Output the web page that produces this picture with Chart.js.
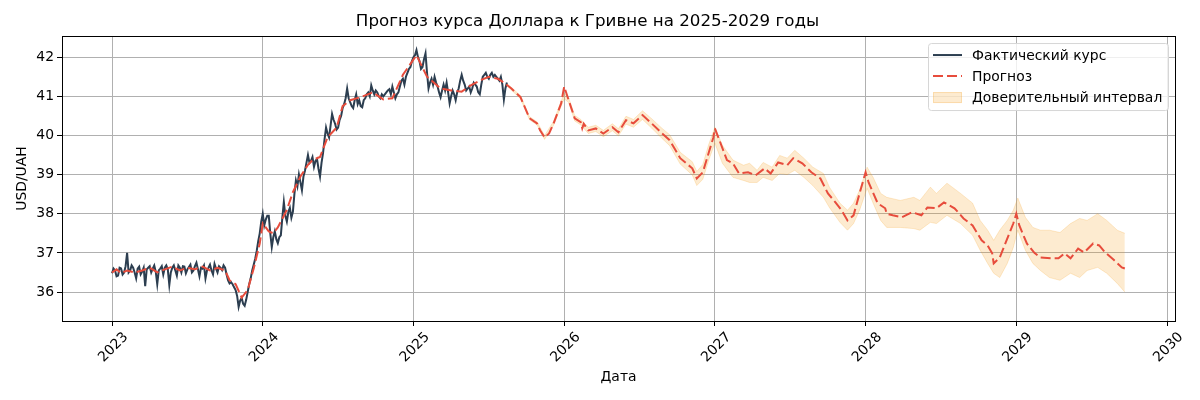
<!DOCTYPE html>
<html lang="ru">
<head>
<meta charset="utf-8">
<title>Прогноз курса Доллара к Гривне</title>
<script src="https://cdn.jsdelivr.net/npm/chart.js@4.4.1/dist/chart.umd.min.js"></script>
<style>
  html, body { margin: 0; padding: 0; background: #fff; }
  #wrap { width: 1200px; height: 400px; }
</style>
</head>
<body>
<div id="wrap"><canvas id="chart" width="1200" height="400"></canvas></div>
<script>
"use strict";

// axis ticks
const yearTicks = [2023, 2024, 2025, 2026, 2027, 2028, 2029, 2030];
const rateTicks = [36, 37, 38, 39, 40, 41, 42];

// actual rate, sampled every 0.01 year from 2023.00
const actualStart = 2023.0;
const actualStep = 0.01;
const actualValues = [
    // 2023
    36.48, 36.60, 36.55, 36.40, 36.42, 36.62, 36.60, 36.45, 36.50, 36.66,
    37.00, 36.50, 36.55, 36.68, 36.62, 36.50, 36.35, 36.60, 36.65, 36.45,
    36.52, 36.62, 36.15, 36.58, 36.62, 36.66, 36.50, 36.60, 36.68, 36.52,
    36.20, 36.55, 36.60, 36.66, 36.45, 36.62, 36.68, 36.58, 36.18, 36.50,
    36.62, 36.68, 36.55, 36.42, 36.68, 36.62, 36.50, 36.66, 36.65, 36.48,
    36.58, 36.64, 36.70, 36.50, 36.55, 36.66, 36.75, 36.58, 36.40, 36.62,
    36.60, 36.68, 36.35, 36.55, 36.62, 36.70, 36.55, 36.45, 36.72, 36.60,
    36.50, 36.66, 36.62, 36.56, 36.68, 36.62, 36.45, 36.30, 36.22, 36.25,
    36.20, 36.12, 36.05, 35.90, 35.62, 35.78, 35.85, 35.70, 35.65, 35.80,
    36.00, 36.20, 36.35, 36.55, 36.70, 36.85, 37.05, 37.30, 37.50, 37.80,
    // 2024
    38.00, 37.70, 37.85, 37.95, 37.95, 37.50, 37.15, 37.40, 37.55, 37.35,
    37.25, 37.40, 37.45, 37.90, 38.30, 37.95, 37.80, 38.05, 38.15, 37.90,
    38.05, 38.50, 38.85, 38.70, 39.00, 38.80, 38.60, 38.95, 39.10, 39.30,
    39.50, 39.30, 39.35, 39.45, 39.20, 39.35, 39.40, 39.15, 38.95, 39.30,
    39.55, 39.90, 40.20, 40.05, 39.95, 40.25, 40.55, 40.40, 40.30, 40.15,
    40.20, 40.40, 40.50, 40.70, 40.80, 40.95, 41.20, 40.95, 40.85, 40.75,
    40.70, 40.90, 41.05, 40.80, 40.90, 40.75, 40.72, 40.90, 40.95, 41.05,
    41.10, 41.00, 41.28, 41.15, 41.05, 41.15, 41.10, 41.00, 40.95, 41.05,
    41.00, 41.05, 41.10, 41.15, 41.18, 41.05, 41.25, 41.10, 40.95, 41.05,
    41.10, 41.25, 41.40, 41.45, 41.30, 41.50, 41.60, 41.70, 41.75, 41.90,
    // 2025
    42.00, 42.05, 42.18, 42.00, 41.90, 41.70, 41.75, 41.95, 42.10, 41.60,
    41.20, 41.35, 41.45, 41.30, 41.50, 41.35, 41.25, 41.10, 40.98, 41.15,
    41.30, 41.15, 41.35, 41.10, 40.82, 41.00, 41.15, 41.05, 40.90, 41.10,
    41.20, 41.40, 41.55, 41.40, 41.30, 41.15, 41.20, 41.25, 41.10, 41.20,
    41.35, 41.30, 41.25, 41.10, 41.05, 41.30, 41.50, 41.55, 41.60, 41.50,
    41.45, 41.55, 41.60, 41.50, 41.55, 41.50, 41.45, 41.40, 41.50, 41.30,
    40.92, 41.20, 41.35
];

// forecast line
const forecastYears = [
    2023.00, 2023.03, 2023.06, 2023.10, 2023.15, 2023.20, 2023.25, 2023.30, 2023.35, 2023.40,
    2023.45, 2023.50, 2023.55, 2023.60, 2023.65, 2023.70, 2023.75, 2023.78, 2023.82, 2023.86,
    2023.90, 2023.94, 2023.98, 2024.00, 2024.04, 2024.07, 2024.10, 2024.16, 2024.20, 2024.25,
    2024.30, 2024.33, 2024.38, 2024.43, 2024.49, 2024.53, 2024.58, 2024.65, 2024.73, 2024.80,
    2024.86, 2024.93, 2025.02, 2025.09, 2025.18, 2025.25, 2025.32, 2025.38, 2025.45, 2025.50,
    2025.56, 2025.60, 2025.65, 2025.71, 2025.77, 2025.82, 2025.84, 2025.87, 2025.90, 2025.93,
    2025.98, 2026.00, 2026.03, 2026.07, 2026.11, 2026.12, 2026.13, 2026.16, 2026.21, 2026.26,
    2026.32, 2026.36, 2026.41, 2026.46, 2026.52, 2026.58, 2026.65, 2026.70, 2026.77, 2026.81,
    2026.85, 2026.88, 2026.92, 2026.96, 2026.99, 2027.00, 2027.03, 2027.08, 2027.12, 2027.16,
    2027.22, 2027.27, 2027.33, 2027.37, 2027.42, 2027.48, 2027.52, 2027.58, 2027.64, 2027.70,
    2027.75, 2027.80, 2027.84, 2027.88, 2027.92, 2027.96, 2028.00, 2028.02, 2028.08, 2028.13,
    2028.14, 2028.18, 2028.24, 2028.31, 2028.37, 2028.41, 2028.47, 2028.52, 2028.59, 2028.65,
    2028.71, 2028.77, 2028.81, 2028.84, 2028.85, 2028.89, 2028.93, 2028.98, 2029.00, 2029.02,
    2029.07, 2029.12, 2029.16, 2029.23, 2029.28, 2029.32, 2029.36, 2029.41, 2029.45, 2029.51,
    2029.55, 2029.59, 2029.65, 2029.70, 2029.72
];
const forecastValues = [
    36.50, 36.58, 36.48, 36.55, 36.50, 36.55, 36.62, 36.50, 36.58, 36.65,
    36.55, 36.62, 36.58, 36.65, 36.55, 36.62, 36.55, 36.30, 36.20, 35.86,
    36.05, 36.60, 37.24, 37.75, 37.55, 37.50, 37.65, 38.10, 38.55, 38.95,
    39.25, 39.37, 39.45, 39.95, 40.20, 40.75, 40.90, 40.98, 41.10, 40.92,
    40.95, 41.55, 42.05, 41.50, 41.20, 41.15, 41.12, 41.28, 41.42, 41.50,
    41.45, 41.35, 41.20, 40.98, 40.44, 40.31, 40.13, 39.95, 40.05, 40.31,
    40.82, 41.25, 40.90, 40.44, 40.34, 40.18, 40.30, 40.13, 40.18, 40.05,
    40.21, 40.08, 40.39, 40.31, 40.52, 40.31, 40.05, 39.88, 39.42, 39.29,
    39.16, 38.90, 39.06, 39.57, 39.95, 40.18, 39.88, 39.37, 39.29, 39.03,
    39.06, 38.98, 39.16, 39.03, 39.31, 39.24, 39.42, 39.29, 39.06, 38.90,
    38.52, 38.29, 38.09, 37.83, 37.96, 38.52, 39.06, 38.80, 38.27, 38.14,
    38.00, 37.96, 37.91, 38.04, 37.96, 38.16, 38.14, 38.29, 38.14, 37.88,
    37.70, 37.32, 37.19, 36.99, 36.73, 36.88, 37.27, 37.75, 38.00, 37.70,
    37.24, 37.00, 36.88, 36.86, 36.86, 36.99, 36.86, 37.11, 37.01, 37.24,
    37.19, 37.01, 36.81, 36.63, 36.60
];

// confidence interval
const bandYears = [
    2025.62, 2025.71, 2025.77, 2025.82, 2025.87, 2025.93, 2026.00, 2026.03, 2026.07, 2026.11,
    2026.16, 2026.21, 2026.26, 2026.32, 2026.36, 2026.41, 2026.46, 2026.52, 2026.58, 2026.65,
    2026.70, 2026.77, 2026.81, 2026.85, 2026.88, 2026.92, 2026.96, 2027.00, 2027.05, 2027.12,
    2027.19, 2027.23, 2027.28, 2027.32, 2027.38, 2027.43, 2027.48, 2027.53, 2027.59, 2027.65,
    2027.72, 2027.76, 2027.83, 2027.88, 2027.92, 2027.96, 2028.01, 2028.05, 2028.10, 2028.14,
    2028.23, 2028.32, 2028.36, 2028.43, 2028.47, 2028.54, 2028.63, 2028.71, 2028.76, 2028.81,
    2028.85, 2028.89, 2028.94, 2028.98, 2029.01, 2029.06, 2029.11, 2029.16, 2029.22, 2029.29,
    2029.36, 2029.42, 2029.47, 2029.54, 2029.60, 2029.67, 2029.72
];
const bandUpper = [
    41.33, 41.02, 40.48, 40.35, 40.00, 40.36, 41.08, 40.96, 40.51, 40.41,
    40.21, 40.26, 40.13, 40.30, 40.17, 40.49, 40.41, 40.63, 40.43, 40.18,
    40.02, 39.57, 39.45, 39.33, 39.08, 39.26, 39.78, 40.21, 39.75, 39.37,
    39.24, 39.29, 39.11, 39.31, 39.19, 39.49, 39.42, 39.62, 39.42, 39.19,
    39.03, 38.68, 38.27, 38.09, 38.27, 38.60, 39.19, 38.93, 38.52, 38.42,
    38.34, 38.42, 38.34, 38.68, 38.52, 38.78, 38.52, 38.27, 37.83, 37.58,
    37.32, 37.58, 37.83, 38.09, 38.40, 37.91, 37.65, 37.58, 37.58, 37.52,
    37.75, 37.88, 37.83, 38.00, 37.83, 37.58, 37.50
];
const bandLower = [
    41.27, 40.94, 40.40, 40.27, 39.90, 40.26, 40.94, 40.84, 40.37, 40.27,
    40.05, 40.10, 39.97, 40.12, 39.99, 40.29, 40.21, 40.41, 40.19, 39.92,
    39.74, 39.27, 39.13, 38.99, 38.72, 38.88, 39.38, 39.80, 39.29, 38.93,
    38.85, 38.80, 38.80, 38.93, 38.85, 39.03, 39.00, 39.11, 38.93, 38.72,
    38.42, 38.16, 37.78, 37.58, 37.75, 38.09, 38.65, 38.27, 37.83, 37.65,
    37.65, 37.62, 37.58, 37.78, 37.75, 37.96, 37.75, 37.45, 37.07, 36.73,
    36.48, 36.37, 36.73, 37.14, 37.58, 37.07, 36.73, 36.55, 36.37, 36.30,
    36.48, 36.37, 36.55, 36.63, 36.48, 36.22, 36.00
];

const FONT = "'DejaVu Sans', sans-serif";
const NAVY = "#2c3e50";
const RED = "#e74c3c";
const BAND = "rgba(243, 156, 18, 0.2)";

function toPoints(xs, ys) {
    return ys.map((y, i) => ({ x: xs[i], y: y }));
}

const actualPoints = actualValues.map((v, i) => ({
    x: actualStart + i * actualStep, y: v
}));

// spines on all four sides
const frame = {
    id: "frame",
    afterDatasetsDraw(chart) {
        const a = chart.chartArea, ctx = chart.ctx;
        ctx.save();
        ctx.strokeStyle = "#000";
        ctx.lineWidth = 1;
        ctx.strokeRect(Math.round(a.left) + 0.5, Math.round(a.top) + 0.5,
                       Math.round(a.right - a.left), Math.round(a.bottom - a.top));
        ctx.restore();
    }
};

// matplotlib-like legend in the upper right corner
const legendBox = {
    id: "legendBox",
    afterDraw(chart) {
        const a = chart.chartArea, ctx = chart.ctx;
        const w = 240, h = 67;
        const x = a.right - w - 7, y = a.top + 7;
        ctx.save();
        ctx.beginPath();
        ctx.roundRect(x + 0.5, y + 0.5, w, h, 3);
        ctx.fillStyle = "rgba(255,255,255,0.8)";
        ctx.fill();
        ctx.strokeStyle = "#d6d6d6";
        ctx.lineWidth = 1;
        ctx.stroke();

        const entries = chart.data.datasets.filter(d => d.legendKind);
        entries.sort((p, q) => p.legendRank - q.legendRank);
        ctx.font = "13.9px " + FONT;
        ctx.textBaseline = "middle";
        ctx.fillStyle = "#000";
        entries.forEach((d, i) => {
            const cy = y + 12 + i * 21;
            ctx.save();
            if (d.legendKind === "band") {
                ctx.fillStyle = BAND;
                ctx.fillRect(x + 5, cy - 5, 29, 11);
                ctx.strokeStyle = BAND;
                ctx.strokeRect(x + 5.5, cy - 4.5, 28, 10);
            } else {
                ctx.strokeStyle = d.borderColor;
                ctx.lineWidth = 2;
                ctx.setLineDash(d.borderDash || []);
                ctx.beginPath();
                ctx.moveTo(x + 5, cy);
                ctx.lineTo(x + 34, cy);
                ctx.stroke();
            }
            ctx.restore();
            ctx.fillText(d.label, x + 44, cy + 1);
        });
        ctx.restore();
    }
};

new Chart(document.getElementById("chart").getContext("2d"), {
    type: "line",
    data: {
        datasets: [
            {
                label: "Доверительный интервал",
                legendKind: "band", legendRank: 2,
                data: toPoints(bandYears, bandUpper),
                borderColor: BAND, backgroundColor: BAND,
                borderWidth: 1, pointRadius: 0, fill: "+1", order: 2
            },
            {
                label: "",
                data: toPoints(bandYears, bandLower),
                borderColor: BAND, backgroundColor: BAND,
                borderWidth: 1, pointRadius: 0, fill: false, order: 2
            },
            {
                label: "Фактический курс",
                legendKind: "line", legendRank: 0,
                data: actualPoints,
                borderColor: NAVY, borderWidth: 2,
                pointRadius: 0, fill: false, order: 1
            },
            {
                label: "Прогноз",
                legendKind: "line", legendRank: 1,
                data: toPoints(forecastYears, forecastValues),
                borderColor: RED, borderWidth: 2, borderDash: [10, 4],
                pointRadius: 0, fill: false, order: 0
            }
        ]
    },
    options: {
        responsive: false,
        animation: false,
        layout: { padding: { left: 0, right: 25, top: 0, bottom: 0 } },
        plugins: {
            legend: { display: false },
            tooltip: { enabled: false },
            title: {
                display: true,
                text: "Прогноз курса Доллара к Гривне на 2025-2029 годы",
                color: "#000",
                font: { family: FONT, size: 16.7, weight: "normal" },
                padding: { top: 12, bottom: 4 }
            }
        },
        scales: {
            x: {
                type: "linear",
                min: 2022.668, max: 2030.053,
                afterBuildTicks: s => { s.ticks = yearTicks.map(v => ({ value: v })); },
                afterFit: s => { s.height = 79; },
                ticks: {
                    color: "#000",
                    font: { family: FONT, size: 13.9 },
                    minRotation: 45, maxRotation: 45,
                    labelOffset: 14, padding: 3,
                    callback: v => String(v)
                },
                grid: { color: "#b0b0b0", lineWidth: 1, tickColor: "#000", tickLength: 5 },
                border: { color: "#000", width: 1 },
                title: {
                    display: true, text: "Дата", color: "#000",
                    font: { family: FONT, size: 13.9 },
                    padding: { top: 0, bottom: 14 }
                }
            },
            y: {
                min: 35.26, max: 42.54,
                afterBuildTicks: s => { s.ticks = rateTicks.map(v => ({ value: v })); },
                afterFit: s => { s.width = 62; },
                ticks: {
                    color: "#000",
                    font: { family: FONT, size: 13.9 },
                    padding: 3,
                    callback: v => String(v)
                },
                grid: { color: "#b0b0b0", lineWidth: 1, tickColor: "#000", tickLength: 5 },
                border: { color: "#000", width: 1 },
                title: {
                    display: true, text: "USD/UAH", color: "#000",
                    font: { family: FONT, size: 13.9 },
                    padding: { top: 14, bottom: 0 }
                }
            }
        }
    },
    plugins: [frame, legendBox]
});
</script>
</body>
</html>
